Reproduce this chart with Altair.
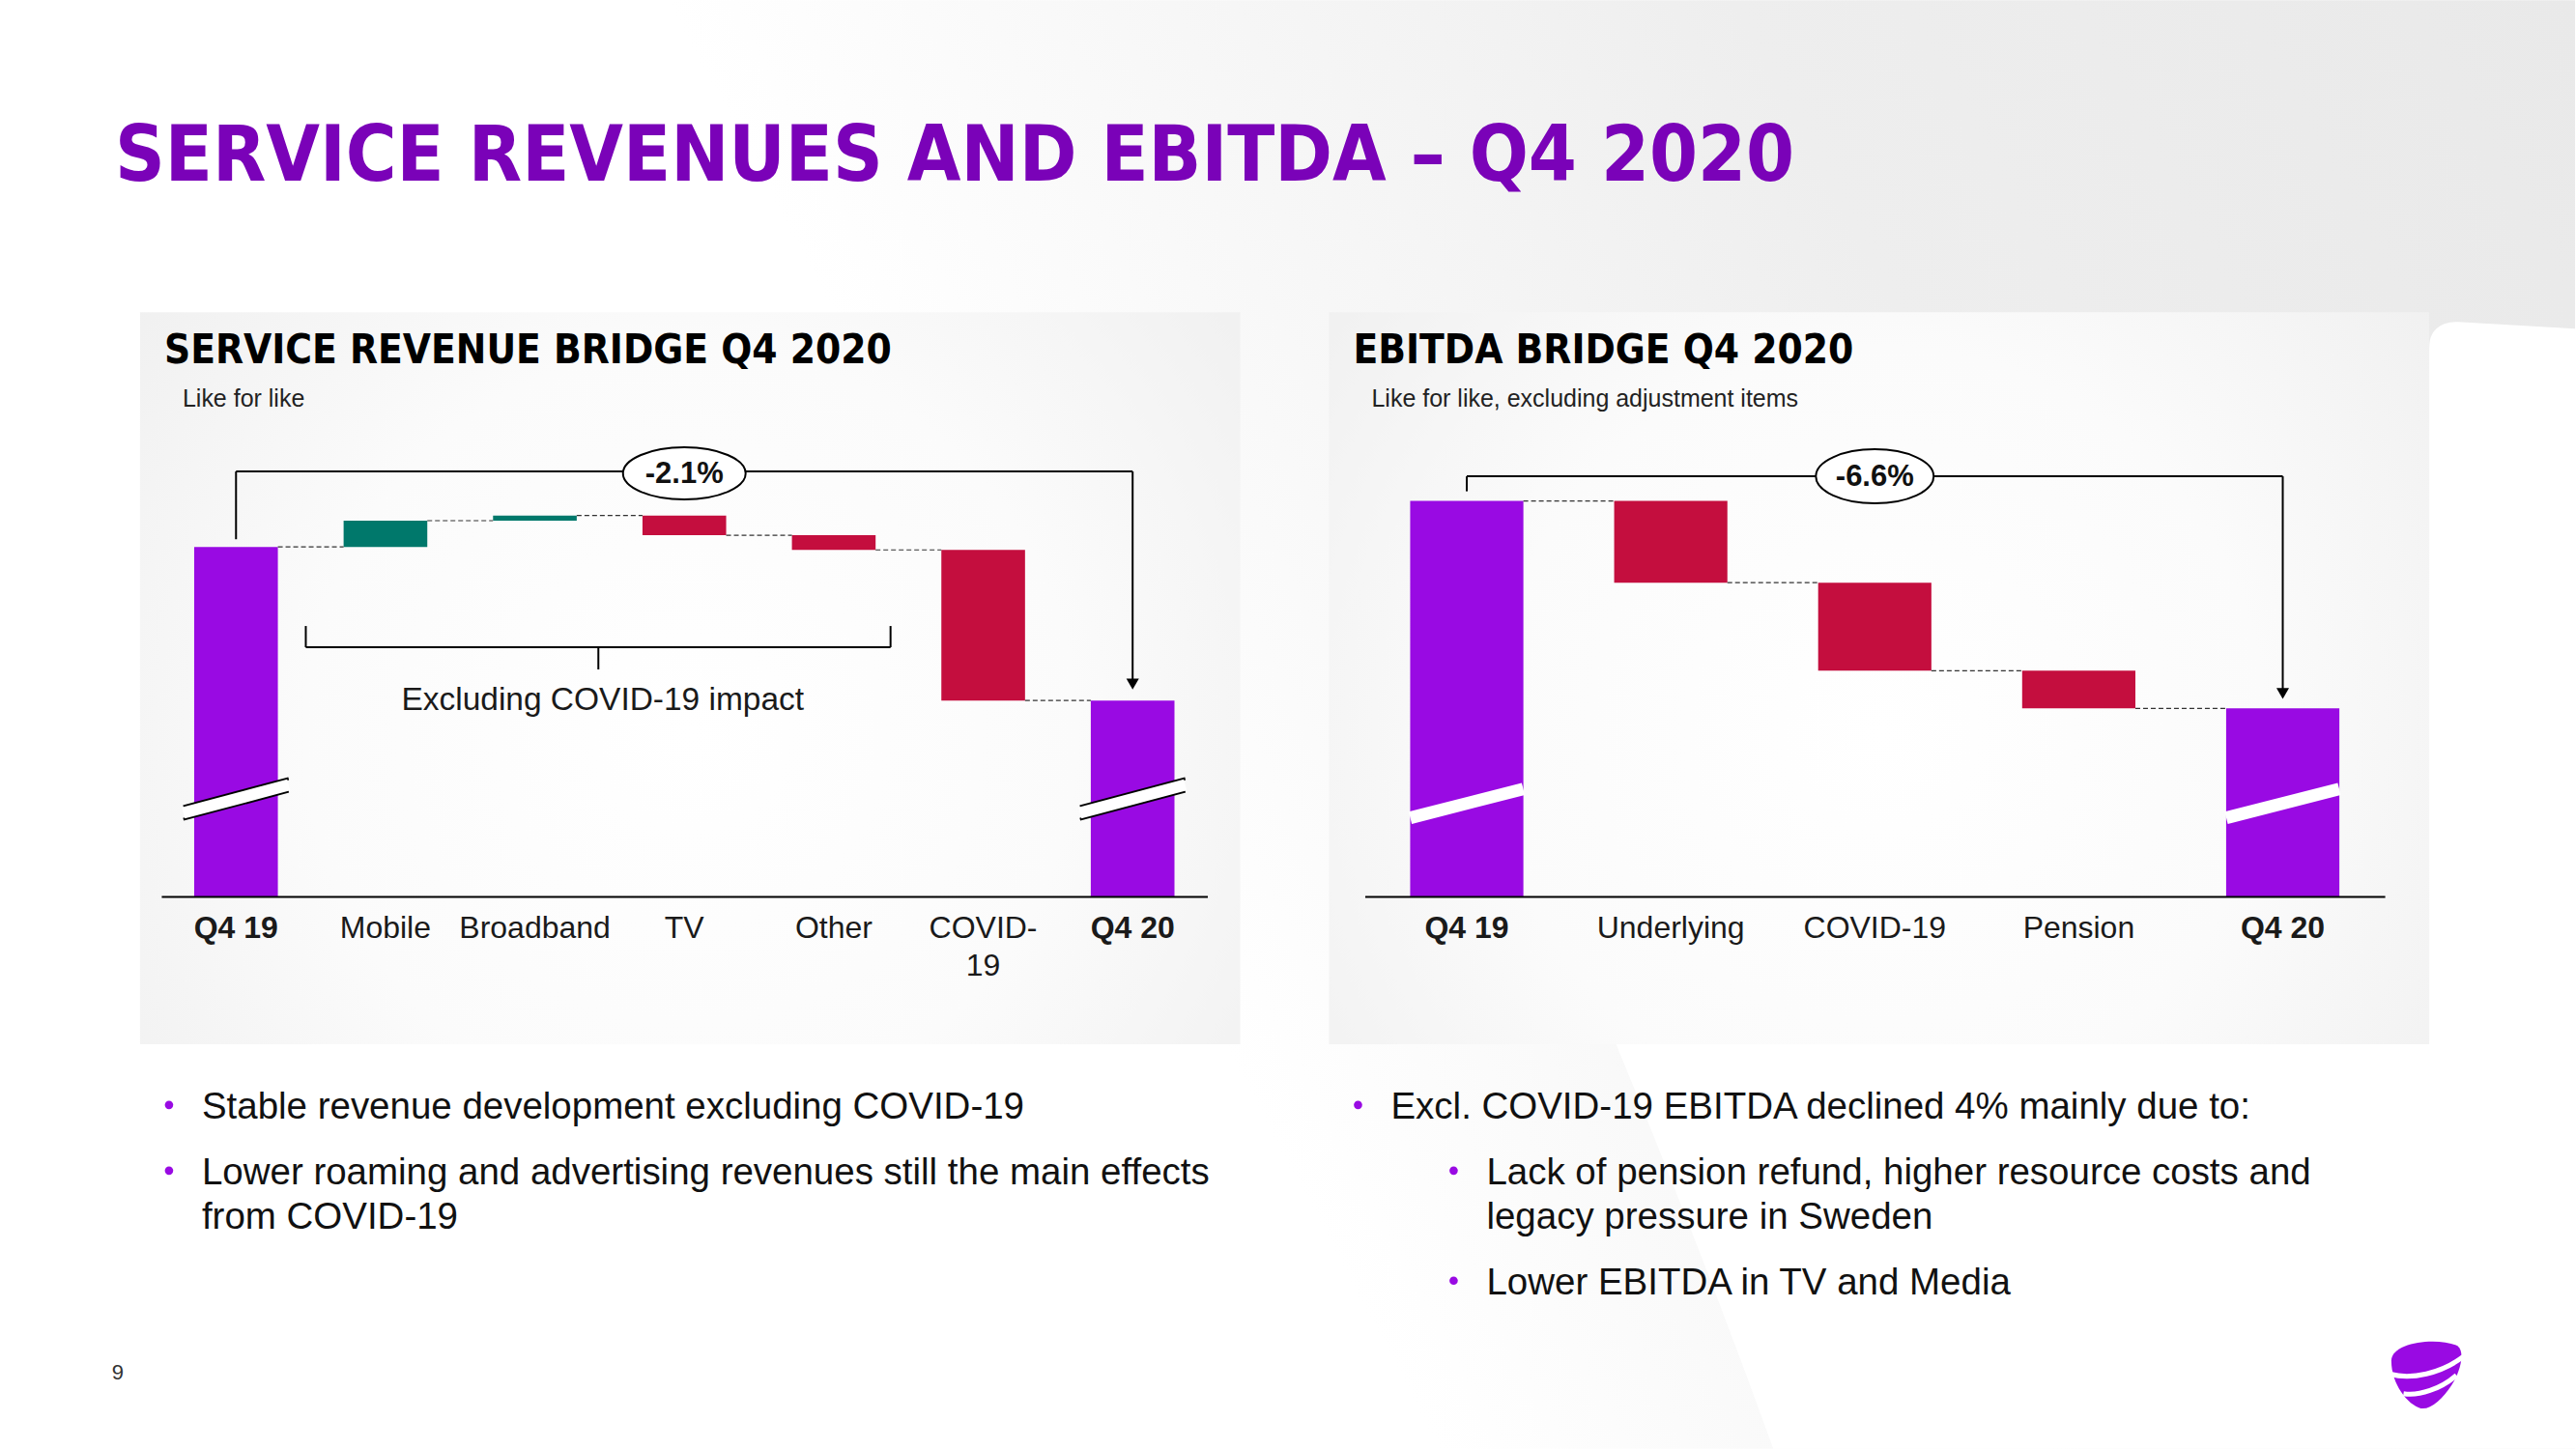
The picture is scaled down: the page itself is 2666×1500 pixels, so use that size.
import altair as alt
import pandas as pd

# ------------------------------------------------------------------ data
SR_CATS = ["Q4 19", "Mobile", "Broadband", "TV", "Other", "COVID-19", "Q4 20"]
SR_START = 100.0                       # Q4 19 service revenue (index)
SR_DELTAS = [0.36, 0.07, -0.27, -0.20, -2.06]
SR_END = 97.9                          # Q4 20 service revenue (index)
SR_CHANGE = "-2.1%"

EB_CATS = ["Q4 19", "Underlying", "COVID-19", "Pension", "Q4 20"]
EB_START = 100.0                       # Q4 19 EBITDA (index)
EB_DELTAS = [-2.6, -2.8, -1.2]
EB_END = 93.4                          # Q4 20 EBITDA (index)
EB_CHANGE = "-6.6%"

MAIN_TITLE = "SERVICE REVENUES AND EBITDA \u2013 Q4 2020"
SR_TITLE = "SERVICE REVENUE BRIDGE Q4 2020"
SR_SUB = "Like for like"
EB_TITLE = "EBITDA BRIDGE Q4 2020"
EB_SUB = "Like for like, excluding adjustment items"
SR_BRACE = "Excluding COVID-19 impact"
SR_BULLETS = [["Stable revenue development excluding COVID-19"],
              ["Lower roaming and advertising revenues still the main effects",
               "from COVID-19"]]
EB_BULLETS = [(0, ["Excl. COVID-19 EBITDA declined 4% mainly due to:"]),
              (1, ["Lack of pension refund, higher resource costs and",
                   "legacy pressure in Sweden"]),
              (1, ["Lower EBITDA in TV and Media"])]
PAGE_NO = "9"

# ------------------------------------------------------------------ style
PURPLE = "#990AE3"
TEAL = "#00786B"
RED = "#C40E3E"
TITLE_PURPLE = "#7A02B8"
BODY = "Liberation Sans, Arial, sans-serif"
HEAD = "Liberation Sans Narrow, DejaVu Sans Condensed, Roboto Condensed, Liberation Sans, sans-serif"
ONE = pd.DataFrame({"k": [0]})


def waterfall(cats, start, deltas, end):
    rows = [dict(cat=cats[0], lo=0.0, hi=start, kind="total")]
    level = start
    levels = [start]
    for c, d in zip(cats[1:-1], deltas):
        new = level + d
        rows.append(dict(cat=c, lo=min(level, new), hi=max(level, new),
                         kind="increase" if d > 0 else "decrease"))
        level = new
        levels.append(level)
    rows.append(dict(cat=cats[-1], lo=0.0, hi=end, kind="total"))
    conns = [dict(a=cats[i], b=cats[i + 1], y=levels[i]) for i in range(len(cats) - 1)]
    return pd.DataFrame(rows), pd.DataFrame(conns)


def text(t, x, y, size, weight="normal", color="#111111", font=BODY,
         align="left", baseline="middle"):
    return alt.Chart(ONE).mark_text(
        text=t, fontSize=size, fontWeight=weight, color=color, font=font,
        align=align, baseline=baseline
    ).encode(x=alt.value(x), y=alt.value(y))


def rule(x, x2, y, y2, width=2, color="black"):
    return alt.Chart(ONE).mark_rule(strokeWidth=width, color=color).encode(
        x=alt.value(x), x2=alt.value(x2), y=alt.value(y), y2=alt.value(y2))


def box(x, x2, y, y2, fill):
    return alt.Chart(ONE).mark_rect(color=fill).encode(
        x=alt.value(x), x2=alt.value(x2), y=alt.value(y), y2=alt.value(y2))


def dot(x, y):
    return alt.Chart(ONE).mark_point(shape="circle", filled=True, size=75,
                                     color=PURPLE, opacity=1).encode(
        x=alt.value(x), y=alt.value(y))


PANEL_FILL = alt.RadialGradient(
    gradient="radial",
    stops=[alt.GradientStop(color="#ffffff", offset=0),
           alt.GradientStop(color="#fbfbfb", offset=0.45),
           alt.GradientStop(color="#ebebeb", offset=1)],
    x1=0.5, y1=0.55, r1=0, x2=0.5, y2=0.55, r2=0.78)

SLIDE_FILL = alt.LinearGradient(
    gradient="linear",
    stops=[alt.GradientStop(color="#ffffff", offset=0),
           alt.GradientStop(color="#ffffff", offset=0.32),
           alt.GradientStop(color="#eeeeee", offset=0.7),
           alt.GradientStop(color="#e9e9e9", offset=1)],
    x1=0, y1=0.3, x2=1, y2=0.0)


def bridge(cats, start, deltas, end, change, width, height, ymin, ymax,
           pad_in, pad_out, wrap, brk_y, brk_half, outline, bracket_y,
           up_gap, arrow_off, ell_w, ell_h, ell_y):
    bars, conns = waterfall(cats, start, deltas, end)
    n = len(cats)
    step = width / (n - pad_in + 2 * pad_out)
    bw = step * (1 - pad_in)
    xs = alt.Scale(domain=cats, paddingInner=pad_in, paddingOuter=pad_out)
    ys = alt.Scale(domain=[ymin, ymax], zero=False, nice=False)
    label_expr = ("datum.value == 'COVID-19' ? ['COVID-', '19'] : datum.value"
                  if wrap else "datum.value")
    axis = alt.Axis(
        title=None, ticks=False, grid=False, domainColor="black", domainWidth=2,
        labelFont=BODY, labelFontSize=32, labelColor="#1a1a1a", labelPadding=18,
        labelAngle=0, labelLineHeight=39, labelLimit=0, labelOverlap=False,
        labelExpr=label_expr, zindex=2,
        labelFontWeight={"condition": {"test": "datum.value == 'Q4 19' || datum.value == 'Q4 20'",
                                       "value": "bold"}, "value": "normal"})

    def X(f):
        return alt.X(f"{f}:N", scale=xs, axis=axis)

    def Y(f):
        return alt.Y(f"{f}:Q", scale=ys, axis=None)

    layers = []
    layers.append(alt.Chart(bars).mark_bar(clip=True).encode(
        x=X("cat"), y=Y("lo"), y2=alt.Y2("hi"),
        color=alt.Color("kind:N", legend=None,
                        scale=alt.Scale(domain=["total", "increase", "decrease"],
                                        range=[PURPLE, TEAL, RED]))))
    layers.append(alt.Chart(conns).mark_rule(
        strokeDash=[5, 3], strokeWidth=1.2, color="#333333",
        xOffset=bw / 2, x2Offset=-bw / 2).encode(x=X("a"), x2=alt.X2("b"), y=Y("y")))

    totals = bars[bars["kind"] == "total"]
    y_left, y_right = brk_y
    if outline:
        for dy in (-6.6, 6.6):
            layers.append(alt.Chart(totals).mark_rule(
                strokeWidth=3, color="black", xOffset=-brk_half, x2Offset=brk_half).encode(
                x=X("cat"), x2=alt.X2("cat"), y=alt.value(y_left + dy), y2=alt.value(y_right + dy)))
    layers.append(alt.Chart(totals).mark_rule(
        strokeWidth=12 if outline else 13, color="white",
        xOffset=-brk_half, x2Offset=brk_half).encode(
        x=X("cat"), x2=alt.X2("cat"), y=alt.value(y_left), y2=alt.value(y_right)))

    br = pd.DataFrame([dict(a=cats[0], b=cats[-1], ya=start, yb=end)])
    layers.append(alt.Chart(br).mark_rule(strokeWidth=2, color="black", yOffset=-up_gap).encode(
        x=X("a"), y=Y("ya"), y2=alt.value(bracket_y)))
    layers.append(alt.Chart(br).mark_rule(strokeWidth=2, color="black").encode(
        x=X("a"), x2=alt.X2("b"), y=alt.value(bracket_y)))
    layers.append(alt.Chart(br).mark_rule(strokeWidth=2, color="black", yOffset=-arrow_off).encode(
        x=X("b"), y=Y("yb"), y2=alt.value(bracket_y)))
    layers.append(alt.Chart(br).mark_point(
        shape="triangle-down", filled=True, color="black", opacity=1, size=170,
        yOffset=-arrow_off).encode(x=X("b"), y=Y("yb")))

    mid = pd.DataFrame({"m": [cats[n // 2]], "t": [change]})
    ell = f"M -1 0 A 1 {ell_h / ell_w:.3f} 0 1 1 1 0 A 1 {ell_h / ell_w:.3f} 0 1 1 -1 0 Z"
    layers.append(alt.Chart(mid).mark_point(
        shape=ell, size=ell_w ** 2, filled=True, fill="white", stroke="black",
        strokeWidth=2, opacity=1).encode(x=X("m"), y=alt.value(ell_y)))
    layers.append(alt.Chart(mid).mark_text(
        fontSize=31, fontWeight="bold", font=BODY, color="#111111",
        baseline="middle").encode(x=X("m"), y=alt.value(ell_y + 1), text="t:N"))
    return layers


# ------------------------------------------------------------------ background white swoosh (right side)
def swoosh_path():
    # outline in slide pixels; normalised to a [-1, 1] symbol box
    cx, cy, half = 2170.5, 916.5, 583.5
    pts = [("M", 1672, 1078), ("Q", 1760, 1290, 1836, 1500), ("L", 2666, 1500),
           ("L", 2666, 340), ("L", 2545, 333), ("Q", 2515, 333, 2515, 360),
           ("L", 2515, 1078), ("Z",)]
    out = []
    for p in pts:
        cmd, vals = p[0], p[1:]
        coords = []
        for i in range(0, len(vals), 2):
            coords.append(f"{(vals[i] - cx) / half:.4f} {(vals[i + 1] - cy) / half:.4f}")
        out.append(cmd + " " + " ".join(coords))
    return " ".join(out), (2 * half) ** 2, cx - 1413, cy - 480


# ------------------------------------------------------------------ left panel
L_W, H = 1083, 448
left_layers = [
    box(-167, 2499, -480, 1020, SLIDE_FILL),
    box(-22, 1117, -157, 601, PANEL_FILL),
    text(MAIN_TITLE, -48, -293, 80, weight="bold", color=TITLE_PURPLE, font=HEAD,
         baseline="alphabetic"),
    text(SR_TITLE, 3, -104, 42, weight="bold", color="#000000", font=HEAD,
         baseline="alphabetic"),
    text(SR_SUB, 22, -67, 25, color="#222222"),
    # brace over the underlying drivers
    rule(149.6, 149.6, 168, 190),
    rule(755, 755, 168, 190),
    rule(149.6, 755, 190, 190),
    rule(452.5, 452.5, 190, 213),
    text(SR_BRACE, 457, 245, 33.5, color="#1a1a1a", align="center"),
    text(PAGE_NO, -45, 941, 22, color="#333333", align="center"),
]
left_layers += bridge(SR_CATS, SR_START, SR_DELTAS, SR_END, SR_CHANGE, L_W, H,
                      95.22, 95.22 + H / 75.7, 0.44, 0.22, True,
                      (361.6, 332.6), 54.5, True, 8, 8, 17, 127, 54, 10)
y = 666
for lines in SR_BULLETS:
    left_layers.append(dot(8, y - 2))
    for ln in lines:
        left_layers.append(text(ln, 42, y, 38.5, color="#111111"))
        y += 46
    y += 22

left = alt.layer(*left_layers).properties(width=L_W, height=H)

# ------------------------------------------------------------------ right panel
R_W = 1056
sw_path, sw_size, sw_x, sw_y = swoosh_path()
right_layers = [
    alt.Chart(ONE).mark_point(shape=sw_path, size=sw_size, filled=True, color="white",
                              opacity=1).encode(x=alt.value(sw_x), y=alt.value(sw_y)),
    box(-37, 1102, -157, 601, PANEL_FILL),
    text(EB_TITLE, -12, -104, 42, weight="bold", color="#000000", font=HEAD,
         baseline="alphabetic"),
    text(EB_SUB, 7, -67, 25, color="#222222"),
]
right_layers += bridge(EB_CATS, EB_START, EB_DELTAS, EB_END, EB_CHANGE, R_W, H,
                       87.42, 87.42 + H / 32.55, 0.445, 0.2225, False,
                       (366.7, 336.7), 58.5, False, 13, 10, 15.5, 122, 56, 13)
y = 666
for level, lines in EB_BULLETS:
    dx = 0 if level == 0 else 99
    right_layers.append(dot(-7 + dx, y - 2))
    for ln in lines:
        right_layers.append(text(ln, 27 + dx, y, 38.5, color="#111111"))
        y += 46
    y += 22

# Telia pebble logo
LOGO = ("M -0.95 -0.35 C -0.95 -0.85 0.3 -1.0 0.85 -0.75 C 1.05 -0.6 0.95 -0.1 0.7 0.3 "
        "C 0.45 0.7 0.1 1.0 -0.15 0.95 C -0.5 0.85 -0.95 0.3 -0.95 -0.35 Z")
STRIPES = "M -0.98 0.02 C -0.4 0.18 0.4 0.0 1.0 -0.45 M -0.62 0.55 C -0.2 0.62 0.4 0.42 0.82 0.05"
right_layers.append(alt.Chart(ONE).mark_point(shape=LOGO, size=5800, filled=True,
                                              color=PURPLE, opacity=1).encode(
    x=alt.value(1099), y=alt.value(942)))
right_layers.append(alt.Chart(ONE).mark_point(shape=STRIPES, size=5800, filled=False,
                                              stroke="white", strokeWidth=5, opacity=1).encode(
    x=alt.value(1099), y=alt.value(942)))

right = alt.layer(*right_layers).properties(width=R_W, height=H)

chart = alt.hconcat(left, right, spacing=163, bounds="flush").properties(
    padding=0, background="white",
    autosize=alt.AutoSizeParams(type="pad")
).configure_view(stroke=None)

chart.save("out.html", embed_options={"renderer": "svg", "actions": False})
